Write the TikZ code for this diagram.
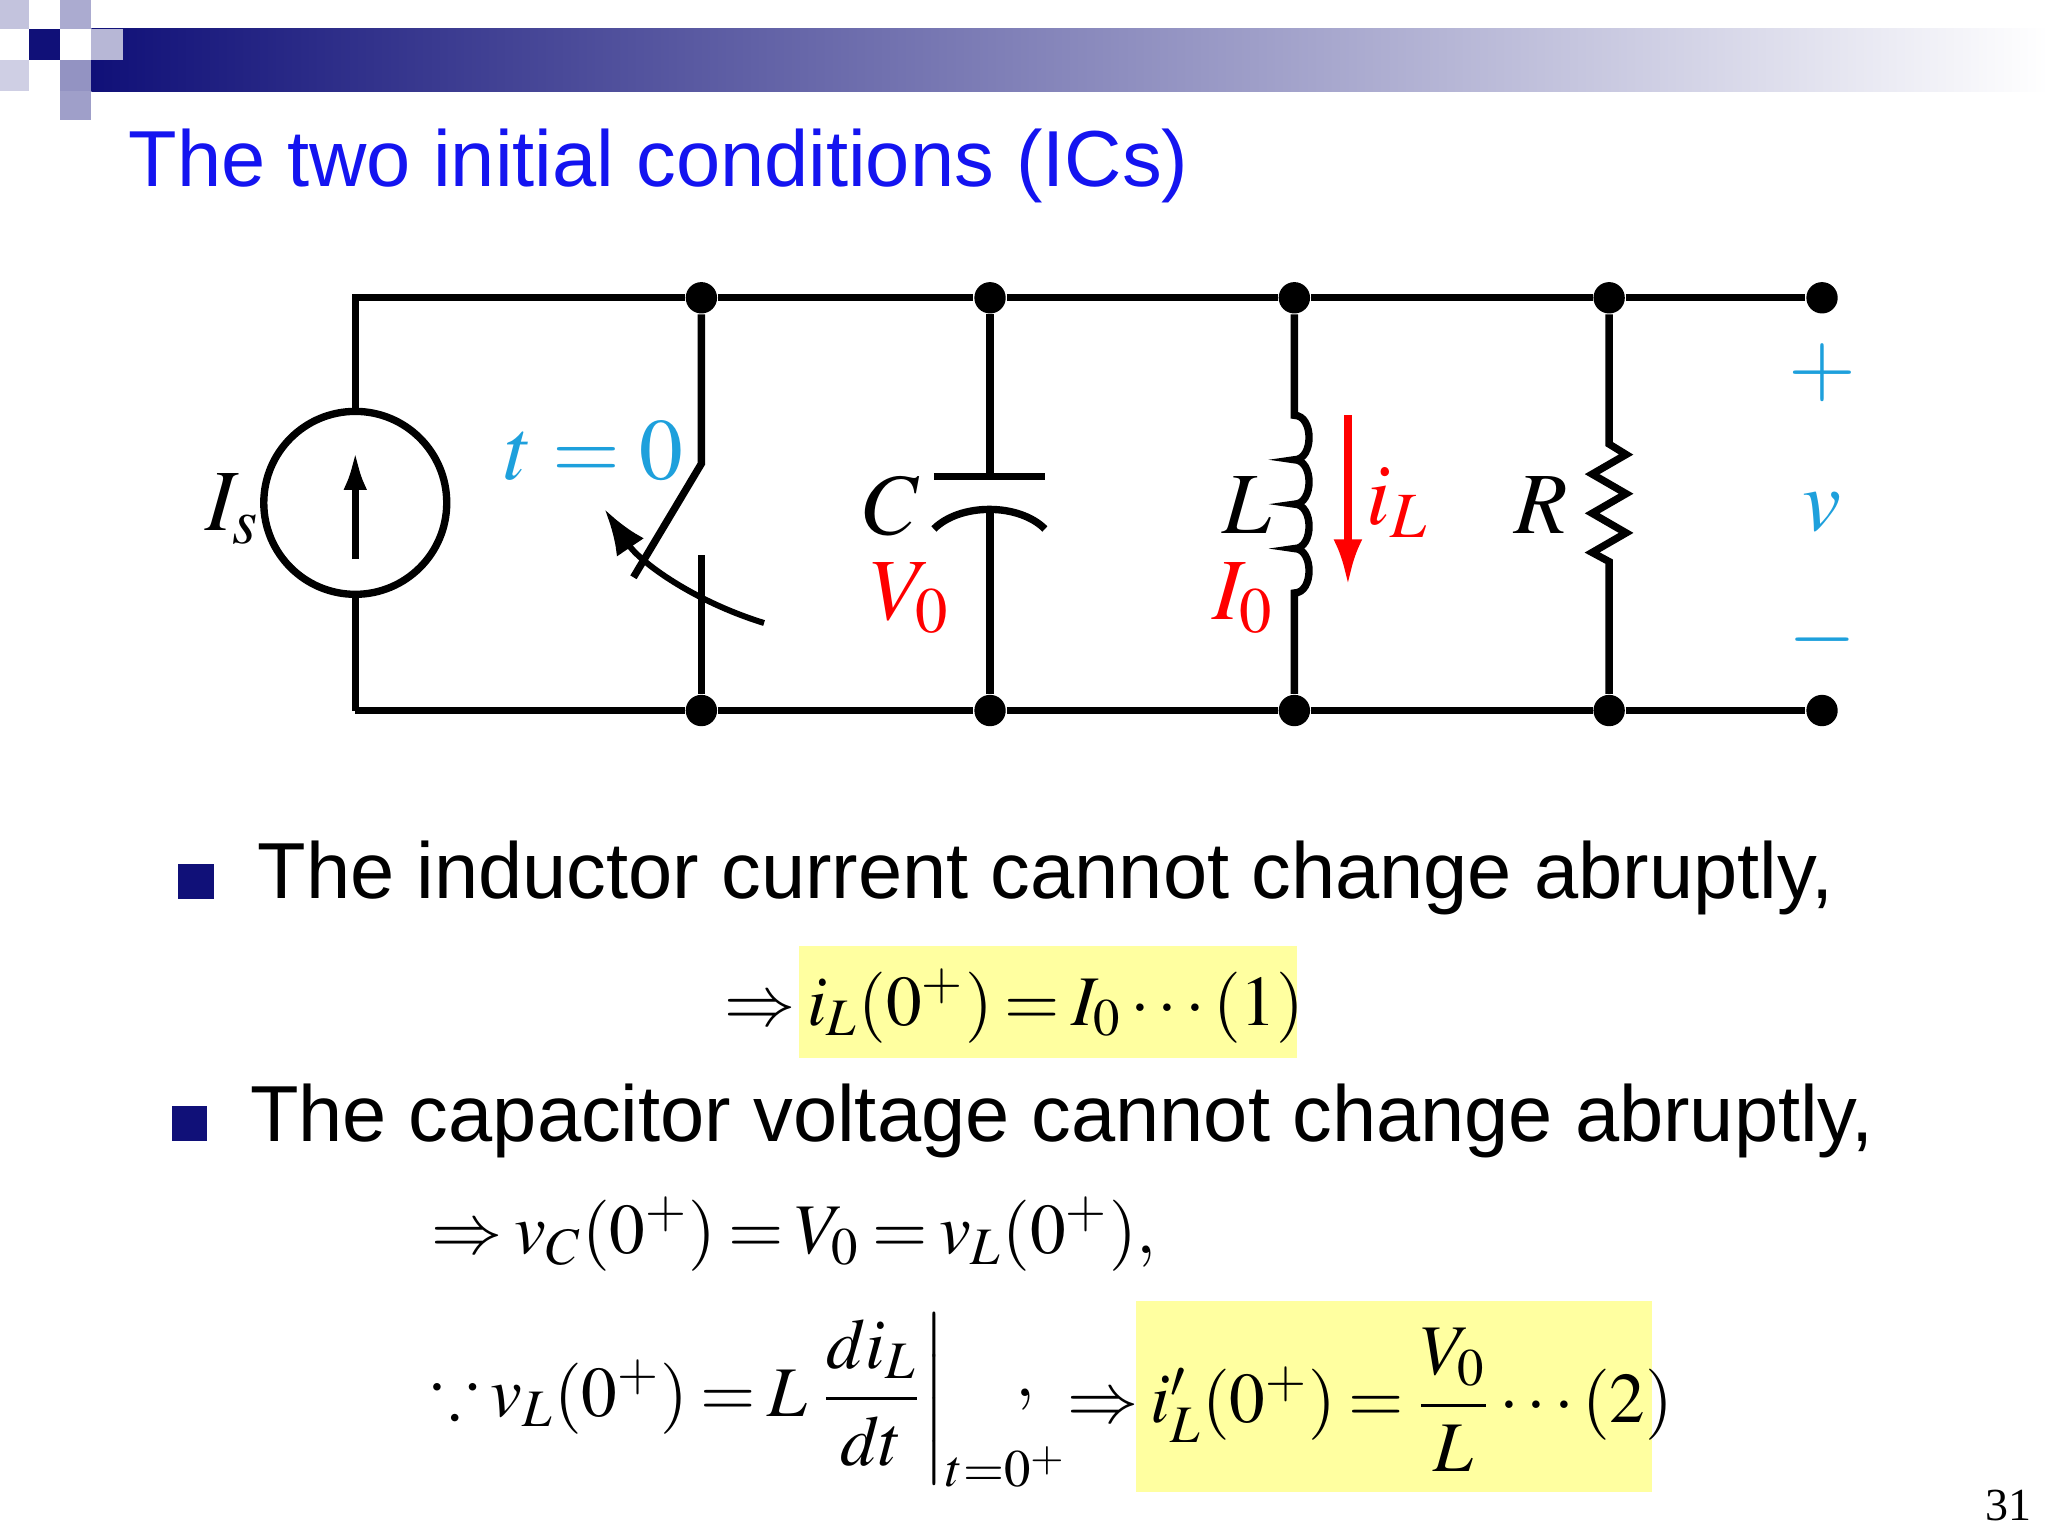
\documentclass[tikz,border=0pt]{standalone}
\usepackage{amsmath,amssymb}
\usepackage{mathptmx}
\usepackage{fontspec}
\setsansfont{Liberation Sans}
\setmainfont{Liberation Serif}
\usetikzlibrary{arrows.meta,shapes.geometric}
\definecolor{navy}{RGB}{16,16,120}
\definecolor{ttl}{RGB}{20,20,240}
\definecolor{cyanl}{RGB}{30,160,220}
\definecolor{hl}{RGB}{255,255,160}
\newcommand\tightmath{\thickmuskip=3mu plus 2mu\relax\medmuskip=2mu\relax}
\tikzset{wire/.style={line width=1.6pt},dotn/.style={circle,fill=black,inner sep=0pt,minimum size=0.24cm},
 bul/.style={fill=navy,minimum size=0.27cm,inner sep=0pt},
 btxt/.style={font=\sffamily\fontsize{17.3}{20}\selectfont,anchor=west},
 lab/.style={font=\fontsize{19}{22}\selectfont},
 eq/.style={font=\fontsize{15.5}{20}\selectfont,anchor=west}}
\begin{document}
\begin{tikzpicture}[x=0.01cm,y=-0.01cm]
\useasboundingbox (0,0) rectangle (1568,1176);
\fill[white] (0,0) rectangle (1568,1176);
% header
\shade[left color=navy,right color=white] (70,22) rectangle (1568,70);
\fill[navy!25] (0,0) rectangle (22,22);
\fill[navy!35] (46,0) rectangle (70,22);
\fill[navy] (22,22) rectangle (46,46);
\fill[navy!30] (70,22) rectangle (94,46);
\fill[navy!45] (46,46) rectangle (70,70);
\fill[navy!20] (0,46) rectangle (22,70);
\fill[navy!40] (46,70) rectangle (70,92);
\node[anchor=west,text=ttl,font=\sffamily\fontsize{17.3}{22}\selectfont] (title) at (86,127) {The two initial conditions (ICs)};
% circuit
\node[dotn] (t1) at (537,228) {}; \node[dotn] (t2) at (758,228) {}; \node[dotn] (t3) at (991,228) {};
\node[dotn] (t4) at (1232,228) {}; \node[dotn] (t5) at (1395,228) {};
\node[dotn] (b1) at (537,544) {}; \node[dotn] (b2) at (758,544) {}; \node[dotn] (b3) at (991,544) {};
\node[dotn] (b4) at (1232,544) {}; \node[dotn] (b5) at (1395,544) {};
\coordinate (tl) at (272,228); \coordinate (bl) at (272,544);
\draw[wire] (bl) -- (tl) -- (t1) -- (t2) -- (t3) -- (t4) -- (t5);
\draw[wire] (bl) -- (b1) -- (b2) -- (b3) -- (b4) -- (b5);
% source
\node[circle,draw,line width=1.6pt,minimum size=1.4cm,fill=white] (src) at (272,385) {};
\draw[line width=1.6pt,-{Latex[length=0.3cm,width=0.18cm]}] (272,428) -- (272,345);
\node[lab] (is) at (178,390) {$I_s$};
% switch
\draw[wire] (t1) -- (537,355) -- (485,442);
\draw[wire] (537,425) -- (b1);
\draw[line width=1.3pt,-{Latex[length=0.35cm,width=0.25cm]}] (585,477) .. controls (530,460) and (490,430) .. (463,390);
\node[lab,text=cyanl] (t0) at (455,345) {$t=0$};
% capacitor
\draw[wire] (t2) -- (758,365); \draw[wire] (715,365) -- (800,365);
\draw[wire] (715,405) .. controls (735,385) and (780,385) .. (800,405);
\draw[wire] (758,390) -- (b2);
\node[lab] (C) at (683,387) {$C$};
\node[lab,text=red] (V0) at (697,458) {$V_0$};
% inductor
\draw[wire] (t3) -- (991,318)
  .. controls (1006,318) and (1006,352) .. (991,352)
  .. controls (1006,352) and (1006,386) .. (991,386)
  .. controls (1006,386) and (1006,420) .. (991,420)
  .. controls (1006,420) and (1006,454) .. (991,454) -- (b3);
\node[lab] (L) at (955,387) {$L$};
\node[lab,text=red] (I0) at (952,458) {$I_0$};
\draw[red,line width=1.6pt,-{Latex[length=0.35cm,width=0.22cm]}] (1032,318) -- (1032,448);
\node[lab,text=red] (iL) at (1070,385) {$i_L$};
% resistor
\draw[wire] (t4) -- (1232,340) -- (1245,348) -- (1219,363) -- (1245,378) -- (1219,393) -- (1245,408) -- (1219,423) -- (1232,430) -- (b4);
\node[lab] (R) at (1180,387) {$R$};
\node[lab,text=cyanl] (plus) at (1395,285) {$+$};
\node[lab,text=cyanl] (v) at (1395,392) {$v$};
\node[lab,text=cyanl] (minus) at (1395,490) {$-$};
% bullets
\node[bul] (bu1) at (150,675) {}; \node[btxt] (tx1) at (185,672) {The inductor current cannot change abruptly,};
\node[bul] (bu2) at (145,860) {}; \node[btxt] (tx2) at (179,858) {The capacitor voltage cannot change abruptly,};
% highlights
\fill[hl] (612,724) rectangle (993,810);
\fill[hl] (870,996) rectangle (1265,1142);
\node[eq] (e1) at (542,770) {\tightmath$\Rightarrow i_L(0^+)=I_0\cdots(1)$};
\node[eq] (e2) at (318,945) {\tightmath$\Rightarrow v_C(0^+)=V_0=v_L(0^+),$};
\node[eq] (e3) at (318,1072) {\tightmath$\because v_L(0^+)=L\left.\dfrac{di_L}{dt}\right|_{t=0^+}$};
\node[eq] (cm) at (765,1072) {$,$};
\node[eq] (e4) at (805,1072) {\tightmath$\Rightarrow i_L'(0^+)=\dfrac{V_0}{L}\cdots(2)$};
\node[font=\fontsize{10}{12}\selectfont] (pg) at (1538,1153) {31};
\end{tikzpicture}
\end{document}
